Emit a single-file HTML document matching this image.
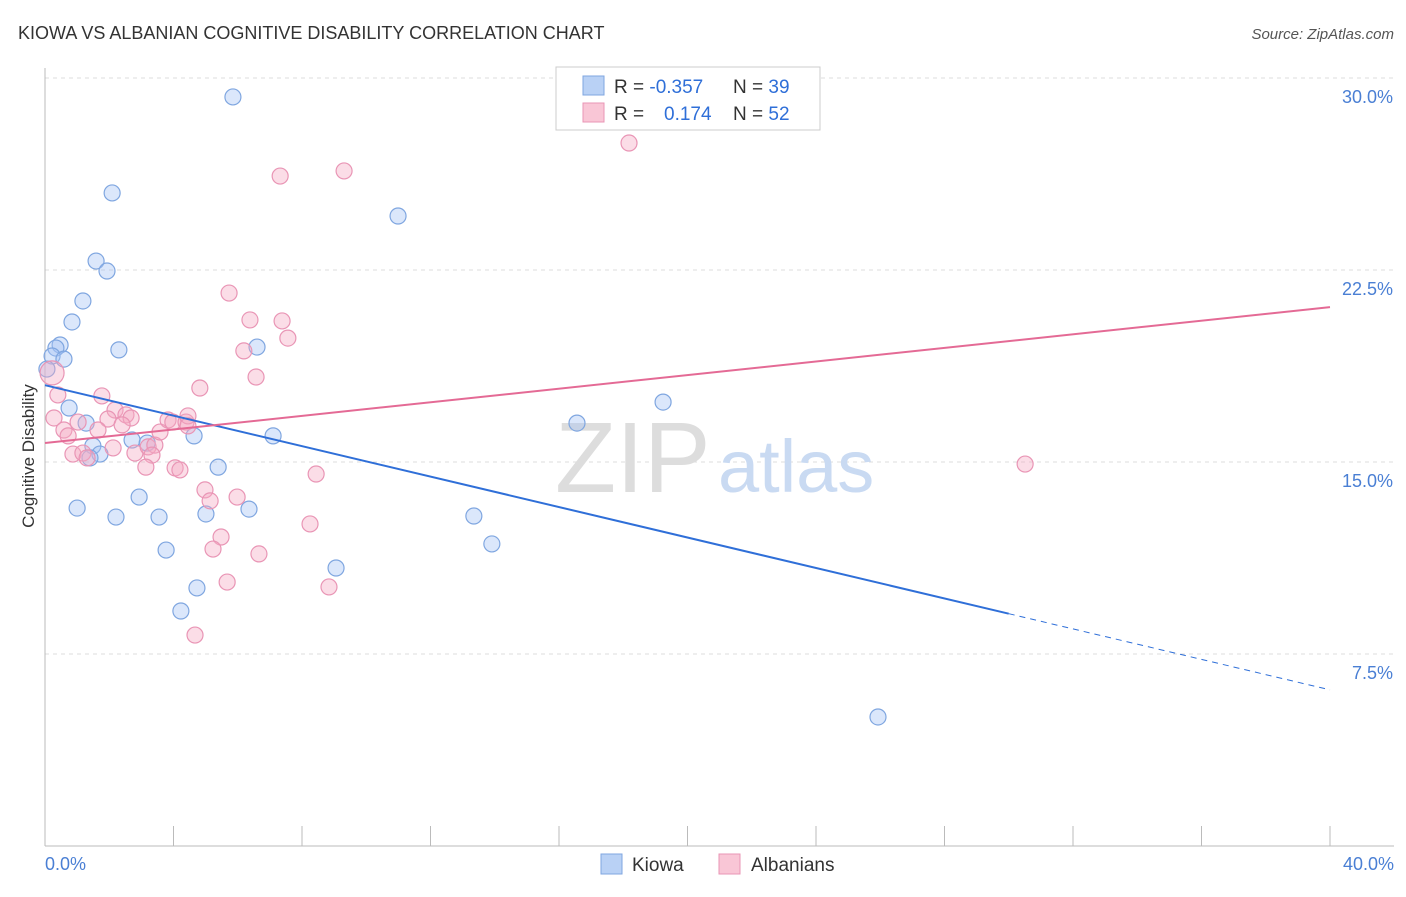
<!DOCTYPE html>
<html><head><meta charset="utf-8"><style>
body{margin:0;background:#fff;font-family:"Liberation Sans",sans-serif;}
svg text{font-family:"Liberation Sans",sans-serif;}
</style></head><body>
<svg id="chart" width="1406" height="892" viewBox="0 0 1406 892">
<text x="18" y="39" font-size="18" fill="#333">KIOWA VS ALBANIAN COGNITIVE DISABILITY CORRELATION CHART</text>
<text x="1394" y="39" font-size="15" fill="#555" font-style="italic" text-anchor="end">Source: ZipAtlas.com</text>
<g id="grid"></g>
<g id="axes"></g>
<text x="555" y="492" font-size="100" fill="#ddd" font-family="Liberation Serif">ZIP</text>
<text x="718" y="492" font-size="74" fill="#c9daf2">atlas</text>
<g id="pts"></g>
<g id="lines"></g>
<text x="34" y="456" font-size="17" fill="#333" text-anchor="middle" transform="rotate(-90 34 456)">Cognitive Disability</text>
<text x="45" y="870" font-size="18" fill="#4a7fd4">0.0%</text>
<text x="1394" y="870" font-size="18" fill="#4a7fd4" text-anchor="end">40.0%</text>
<g>
<rect x="556" y="67" width="264" height="63" fill="#fff" stroke="#ccc"/>
<rect x="583" y="76" width="21" height="19" fill="#b9d1f5" stroke="#7fa6e0"/>
<rect x="583" y="103" width="21" height="19" fill="#f9c6d6" stroke="#e995b5"/>
<text x="614" y="93" font-size="19" fill="#333">R = <tspan fill="#2f6fd8">-0.357</tspan><tspan x="733">N = </tspan><tspan fill="#2f6fd8">39</tspan></text>
<text x="614" y="120" font-size="19" fill="#333">R = <tspan fill="#2f6fd8" x="664">0.174</tspan><tspan x="733">N = </tspan><tspan fill="#2f6fd8">52</tspan></text>
</g>
<g>
<rect x="601" y="854" width="21" height="20" fill="#b9d1f5" stroke="#7fa6e0"/>
<text x="632" y="871" font-size="19" fill="#333">Kiowa</text>
<rect x="719" y="854" width="21" height="20" fill="#f9c6d6" stroke="#e995b5"/>
<text x="751" y="871" font-size="19" fill="#333">Albanians</text>
</g>
</svg>
<script>
const yTicks=[7.5,15,22.5,30];
const yTickLabels=["7.5%","15.0%","22.5%","30.0%"];
const xTicks=[0,4,8,12,16,20,24,28,32,36,40];
const kiowaX=[5.85,2.09,10.99,1.59,1.93,1.18,0.84,0.47,0.34,0.22,0.59,0.06,2.30,6.60,0.75,1.28,1.49,1.71,1.40,2.71,3.18,4.64,7.10,5.39,2.93,1.00,2.21,3.55,5.01,6.35,3.77,4.73,4.23,9.06,13.35,13.91,16.56,19.24,25.93];
const kiowaY=[29.26,25.51,24.61,22.85,22.46,21.29,20.47,19.57,19.45,19.14,19.02,18.63,19.38,19.49,17.11,16.52,15.63,15.31,15.16,15.86,15.74,16.02,16.02,14.80,13.63,13.20,12.85,12.85,12.97,13.16,11.56,10.08,9.18,10.86,12.89,11.80,16.52,17.34,5.04];
const albX=[18.18,7.32,9.31,5.73,6.38,7.38,7.56,6.19,6.57,4.82,1.77,0.40,0.22,0.28,0.59,0.72,1.03,2.18,1.96,2.52,2.68,2.40,1.65,2.12,0.87,1.18,1.31,2.80,3.21,3.42,3.33,3.58,3.83,3.98,4.39,4.45,3.14,4.05,4.20,4.98,5.14,5.98,8.44,8.25,5.48,5.23,6.66,5.67,8.84,4.67,30.51,4.45];
const albY=[27.46,26.17,26.37,21.60,20.55,20.51,19.84,19.34,18.32,17.89,17.58,17.62,18.48,16.72,16.25,16.02,16.56,17.03,16.68,16.84,16.72,16.45,16.25,15.55,15.31,15.35,15.16,15.35,15.59,15.66,15.27,16.17,16.64,16.56,16.56,16.80,14.80,14.77,14.69,13.91,13.48,13.63,14.53,12.58,12.07,11.60,11.41,10.31,10.12,8.24,14.92,16.41];
const kiowaTrend=[18.0,6.1];
const albTrend=[15.74,21.05];
const NS="http://www.w3.org/2000/svg";
const X=v=>45+v*32.125, Y=v=>846-v*25.6;
function mk(tag,attrs,parent){const e=document.createElementNS(NS,tag);for(const k in attrs)e.setAttribute(k,attrs[k]);document.getElementById(parent).appendChild(e);return e;}
yTicks.forEach((t,i)=>{
 const l=mk('line',{x1:45,x2:1394,y1:Y(t),y2:Y(t),stroke:'#ddd','stroke-dasharray':'4,4'},'grid');
 
 
 const tx=mk('text',{x:1393,y:Y(t)+25,'font-size':18,fill:'#4a7fd4','text-anchor':'end'},'grid');
 tx.textContent=yTickLabels[i];
 
 
});
mk('line',{x1:45,x2:45,y1:68,y2:846,stroke:'#bbb'},'axes');
mk('line',{x1:45,x2:1394,y1:846,y2:846,stroke:'#bbb'},'axes');
xTicks.forEach(t=>{
 const l=mk('line',{x1:X(t),x2:X(t),y1:826,y2:846,stroke:'#bbb'},'axes');
 
 
});
kiowaX.forEach((v,i)=>{
 const c=mk('circle',{cx:X(v),cy:Y(kiowaY[i]),r:8,fill:'rgba(164,194,244,0.4)',stroke:'#7fa6e0','stroke-width':1.2},'pts');
 
 
});
albX.forEach((v,i)=>{
 const c=mk('circle',{cx:X(v),cy:Y(albY[i]),r:i==12?12:8,fill:'rgba(244,170,195,0.4)',stroke:'#e995b5','stroke-width':1.2},'pts');
 
 
});
const kAt=x=>kiowaTrend[0]+(kiowaTrend[1]-kiowaTrend[0])*x/40;
let l1=mk('line',{x1:X(0),y1:Y(kAt(0)),x2:X(30),y2:Y(kAt(30)),stroke:'#2f6fd8','stroke-width':2},'lines');


let l2=mk('line',{x1:X(30),y1:Y(kAt(30)),x2:X(40),y2:Y(kAt(40)),stroke:'#2f6fd8','stroke-width':1,'stroke-dasharray':'6,5'},'lines');


let l3=mk('line',{x1:X(0),y1:Y(albTrend[0]),x2:X(40),y2:Y(albTrend[1]),stroke:'#e46a95','stroke-width':2},'lines');


</script>
</body></html>
